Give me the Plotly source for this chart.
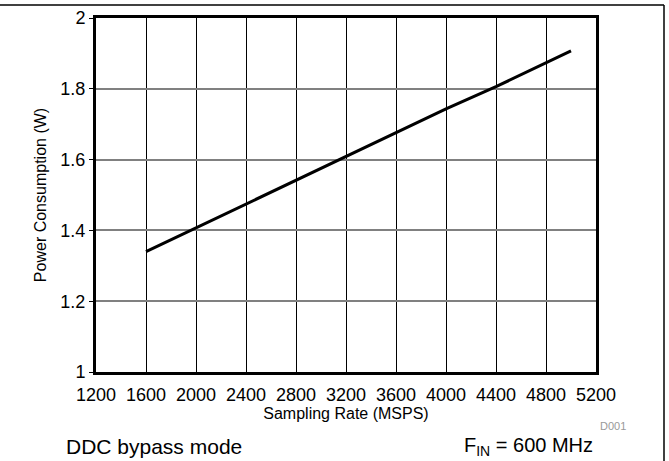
import plotly.graph_objects as go

sampling_rate = [1600, 2000, 2400, 2800, 3200, 3600, 4000, 4400, 4800, 5000]
power_w = [1.340, 1.407, 1.475, 1.542, 1.608, 1.677, 1.743, 1.806, 1.873, 1.907]

x_ticks = [1200, 1600, 2000, 2400, 2800, 3200, 3600, 4000, 4400, 4800, 5200]
y_ticks = [1, 1.2, 1.4, 1.6, 1.8, 2]
y_tick_text = ["1", "1.2", "1.4", "1.6", "1.8", "2"]

FONT = "Liberation Sans, Arial, sans-serif"

W, H = 669, 461
L, T, PW, PH = 96, 18, 500, 354


def px_x(p):
    return (p - L) / PW


def px_y(p):
    return (T + PH - p) / PH


fig = go.Figure()
fig.add_trace(go.Scatter(x=sampling_rate, y=power_w, mode="lines",
                         line=dict(color="black", width=3), showlegend=False,
                         hoverinfo="skip"))

fig.update_layout(
    width=W, height=H,
    margin=dict(l=L, r=W - L - PW, t=T, b=H - T - PH),
    paper_bgcolor="white", plot_bgcolor="white",
    font=dict(family=FONT, color="black", size=16),
    xaxis=dict(range=[1200, 5200], tickvals=x_ticks, ticktext=[str(v) for v in x_ticks],
               showgrid=True, gridcolor="black", gridwidth=1, automargin=False,
               showline=True, linecolor="black", linewidth=3, mirror=True,
               ticks="", zeroline=False, tickfont=dict(size=18), ticklabelstandoff=4,
               title=dict(text="Sampling Rate (MSPS)", font=dict(size=16), standoff=0)),
    yaxis=dict(range=[1, 2], tickvals=y_ticks, ticktext=y_tick_text, automargin=False,
               showgrid=True, gridcolor="#808080", gridwidth=1.5,
               showline=True, linecolor="black", linewidth=3, mirror=True,
               ticks="outside", ticklen=4, tickcolor="black", zeroline=False,
               tickfont=dict(size=18),
               title=dict(text="Power Consumption (W)", font=dict(size=16), standoff=10)),
    shapes=[
        dict(type="line", xref="paper", yref="paper",
             x0=px_x(-5), x1=px_x(664), y0=px_y(5), y1=px_y(5),
             line=dict(color="black", width=1.5)),
        dict(type="line", xref="paper", yref="paper",
             x0=px_x(664), x1=px_x(664), y0=px_y(5), y1=px_y(470),
             line=dict(color="black", width=1.5)),
    ],
    annotations=[
        dict(text="DDC bypass mode", xref="paper", yref="paper", x=px_x(64), y=px_y(447),
             xanchor="left", yanchor="middle", showarrow=False, font=dict(size=21)),
        dict(text="F<sub>IN</sub> = 600 MHz", xref="paper", yref="paper", x=px_x(462), y=px_y(447),
             xanchor="left", yanchor="middle", showarrow=False, font=dict(size=20)),
        dict(text="D001", xref="paper", yref="paper", x=px_x(628), y=px_y(426),
             xanchor="right", yanchor="middle", showarrow=False,
             font=dict(size=11, color="#999999")),
    ],
)

fig.write_html("out.html", config={"displayModeBar": False},
               post_script="document.body.style.margin='0';document.body.style.overflow='hidden';")
